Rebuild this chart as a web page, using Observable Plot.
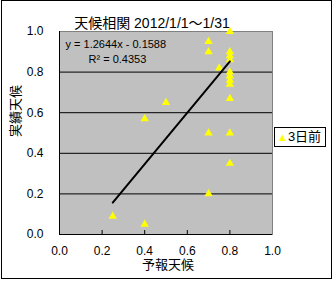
<!DOCTYPE html>
<html>
<head>
<meta charset="utf-8">
<script src="https://cdn.jsdelivr.net/npm/d3@7"></script>
<script src="https://cdn.jsdelivr.net/npm/@observablehq/plot@0.6"></script>
<style>
  html, body { margin: 0; padding: 0; background: #fff; }
  #wrap { position: relative; width: 333px; height: 281px; overflow: hidden; }
  #border { position: absolute; left: 1px; top: 0px; width: 331px; height: 279px; box-sizing: border-box; border: 1px solid #000; pointer-events: none; }
  #legend { position: absolute; left: 274px; top: 127px; width: 52px; height: 20px; box-sizing: border-box; border: 1px solid #000; background: #fff;
            font-family: "Liberation Sans", "Noto Sans CJK JP", sans-serif; font-size: 13px; line-height: 18px; white-space: nowrap; padding-left: 2px; }
  #legend .tri { color: #ffff00; font-size: 11px; vertical-align: 0px; }
</style>
</head>
<body>
<div id="wrap"><div id="border"></div><div id="legend"><span class="tri">▲</span><span id="legtext"></span></div></div>
<script>
const title = "天候相関 2012/1/1～1/31";
const xTitle = "予報天候";
const yTitle = "実績天候";
const seriesName = "3日前";
const equationText = "y = 1.2644x - 0.1588";
const r2Text = "R² = 0.4353";
const slope = [1.2644];
const intercept = [-0.1588];
const forecast = [0.25, 0.4, 0.4, 0.5, 0.7, 0.7, 0.7, 0.7, 0.75, 0.8, 0.8, 0.8, 0.8, 0.8, 0.8, 0.8, 0.8, 0.8, 0.8, 0.8];
const actual   = [0.09, 0.05, 0.57, 0.65, 0.95, 0.9, 0.5, 0.2, 0.82, 1.0, 0.9, 0.88, 0.86, 0.8, 0.78, 0.76, 0.74, 0.67, 0.5, 0.35];
const tickValues = [0, 0.2, 0.4, 0.6, 0.8, 1.0];
const innerTicks = [0.2, 0.4, 0.6, 0.8];

const pts = forecast.map((x, i) => ({x, y: actual[i]}));
const xmin = d3.min(forecast), xmax = d3.max(forecast);
const trend = [xmin, xmax].map(x => ({x, y: slope[0] * x + intercept[0]}));

const font = "'Liberation Sans', 'Noto Sans CJK JP', sans-serif";

document.getElementById("legtext").textContent = seriesName;

const chart = Plot.plot({
  width: 333,
  height: 281,
  marginLeft: 59,
  marginRight: 61,
  marginTop: 31,
  marginBottom: 47,
  style: {fontFamily: font, fontSize: "12px", background: "transparent", color: "#000", overflow: "visible"},
  x: {domain: [0, 1]},
  y: {domain: [0, 1]},
  marks: [
    Plot.frame({fill: "#c0c0c0", stroke: "#808080"}),
    Plot.gridY(innerTicks, {stroke: "#000", strokeOpacity: 1}),
    Plot.gridX(innerTicks, {stroke: "#000", strokeOpacity: 1, insetTop: 199}),
    Plot.ruleX([0], {stroke: "#000"}),
    Plot.ruleY([0], {stroke: "#000"}),
    Plot.axisY(tickValues, {tickSize: 0, tickPadding: 16, tickFormat: d3.format(".1f"), fontSize: 12, label: null}),
    Plot.axisX(tickValues, {tickSize: 0, tickPadding: 12, tickFormat: d3.format(".1f"), fontSize: 12, label: null}),
    Plot.dot(pts, {x: "x", y: "y", symbol: "triangle", r: 3.1, fill: "#ffff00", stroke: "none"}),
    Plot.line(trend, {x: "x", y: "y", stroke: "#000", strokeWidth: 2}),
    Plot.text([equationText], {text: d => d, frameAnchor: "top-left", textAnchor: "start", dx: 6, dy: 8.5, fontSize: 11}),
    Plot.text([r2Text], {text: d => d, frameAnchor: "top-left", textAnchor: "start", dx: 29, dy: 24, fontSize: 11}),
    Plot.text([title], {text: d => d, frameAnchor: "top", dx: -14, dy: -13.5, fontSize: 14, letterSpacing: "0.9px"}),
    Plot.text([xTitle], {text: d => d, frameAnchor: "bottom", dx: 2, dy: 34.5, fontSize: 13}),
    Plot.text([yTitle], {text: d => d, frameAnchor: "left", rotate: -90, dx: -44, dy: 4, fontSize: 13})
  ]
});
document.getElementById("wrap").insertBefore(chart, document.getElementById("border"));
chart.style.position = "absolute";
chart.style.left = "0";
chart.style.top = "0";
</script>
</body>
</html>
